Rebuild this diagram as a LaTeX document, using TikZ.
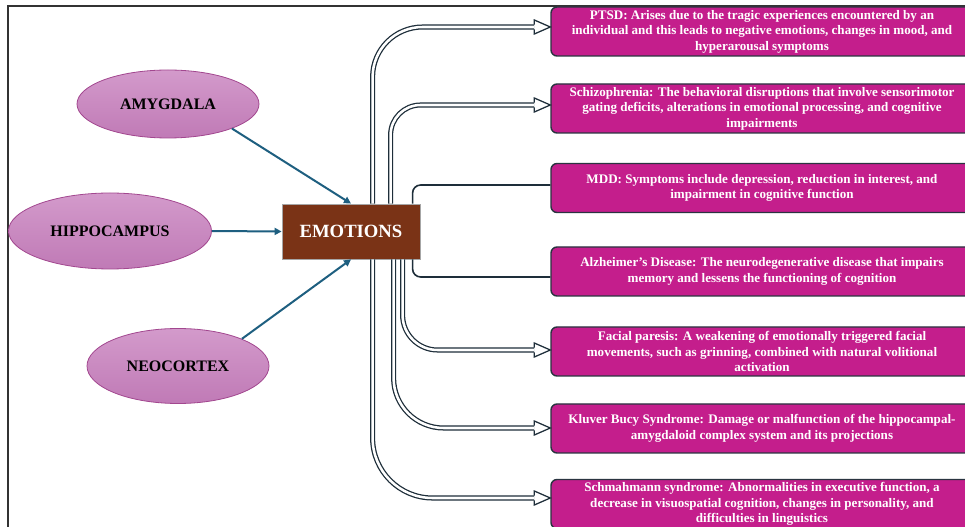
\documentclass[tikz,border=0pt]{standalone}
\usepackage{fontspec}
\setmainfont{Liberation Serif}
\usetikzlibrary{shapes.geometric,arrows.meta,calc}
\definecolor{boxfill}{HTML}{C41E8C}
\definecolor{boxline}{HTML}{2A3440}
\definecolor{emofill}{HTML}{7A3316}
\definecolor{ellTop}{HTML}{D39ACB}
\definecolor{ellBot}{HTML}{C07AB6}
\definecolor{ellLine}{HTML}{A2478F}
\definecolor{blu}{HTML}{1E5F80}
\definecolor{conn}{HTML}{1E2E3A}
\definecolor{framec}{HTML}{333333}
\newcommand\headat[1]{\draw[headst] ($(#1)+(0,-2.4)$) -- ($(#1)+(0,-7)$) -- ($(#1)+(16,0)$) -- ($(#1)+(0,7)$) -- ($(#1)+(0,2.4)$);}
\begin{document}
\begin{tikzpicture}[x=0.75pt,y=-0.75pt,
  ell/.style={ellipse, draw=ellLine, line width=0.6pt, top color=ellTop, bottom color=ellBot, inner sep=0pt, font=\fontsize{12}{14}\selectfont\bfseries, text=black},
  emo/.style={rectangle, draw=gray!70, line width=0.6pt, fill=emofill, text=white, inner sep=0pt, font=\fontsize{14}{16}\selectfont\bfseries},
  dbox/.style={rectangle, rounded corners=4.5pt, draw=boxline, line width=1.05pt, fill=boxfill, text=white, align=center, inner sep=0pt, minimum width=316.5pt, minimum height=36.75pt, font=\fontsize{9.8}{11.7}\selectfont\bfseries},
  bluarrow/.style={draw=blu, line width=1.5pt, -{Triangle[length=5.25pt,width=5.25pt]}},
  dbl/.style={draw=conn, line width=0.95pt, double=white, double distance=1.9pt},
  sgl/.style={draw=conn, line width=1.2pt},
  headst/.style={draw=conn, line width=0.95pt, fill=white, line join=miter},
  framest/.style={draw=framec, line width=1pt}
]
\useasboundingbox (0,0) rectangle (965,527);
\fill[white] (0,0) rectangle (965,527);
\draw[framest] (8,540) -- (8,6) -- (975,6);

% left ellipses
\node[ell, minimum width=136.5pt, minimum height=51pt] (amy) at (168,104) {AMYGDALA};
\node[ell, minimum width=152.25pt, minimum height=57pt] (hip) at (110,231) {HIPPOCAMPUS};
\node[ell, minimum width=136.5pt, minimum height=56.25pt] (neo) at (178,366) {NEOCORTEX};
\node[emo, minimum width=103.5pt, minimum height=41.25pt] (em) at (351,231.5) {EMOTIONS};

\draw[bluarrow] (amy.-21) -- (em.north);
\draw[bluarrow] (hip.east) -- (em.west);
\draw[bluarrow] (neo.23) -- (em.south);

% right boxes
\node[dbox] (b1) at (762,31.5) {PTSD: Arises due to the tragic experiences encountered by an\\individual and this leads to negative emotions, changes in mood, and\\hyperarousal symptoms};
\node[dbox] (b2) at (762,108.5) {Schizophrenia: The behavioral disruptions that involve sensorimotor\\gating deficits, alterations in emotional processing, and cognitive\\impairments};
\node[dbox] (b3) at (762,188) {MDD: Symptoms include depression, reduction in interest, and\\impairment in cognitive function};
\node[dbox] (b4) at (762,271.5) {Alzheimer’s Disease: The neurodegenerative disease that impairs\\memory and lessens the functioning of cognition};
\node[dbox] (b5) at (762,351.5) {Facial paresis: A weakening of emotionally triggered facial\\movements, such as grinning, combined with natural volitional\\activation};
\node[dbox] (b6) at (762,428.5) {Kluver Bucy Syndrome: Damage or malfunction of the hippocampal-\\amygdaloid complex system and its projections};
\node[dbox] (b7) at (762,504) {Schmahmann syndrome: Abnormalities in executive function, a\\decrease in visuospatial cognition, changes in personality, and\\difficulties in linguistics};

% connector start points on EMOTIONS
\coordinate (e1) at ($(em.north west)+(91,0)$);
\coordinate (e2) at ($(em.north west)+(109,0)$);
\coordinate (e3) at ($(em.north west)+(131,0)$);
\coordinate (e4) at ($(em.south west)+(131,0)$);
\coordinate (e5) at ($(em.south west)+(121,0)$);
\coordinate (e6) at ($(em.south west)+(112,0)$);
\coordinate (e7) at ($(em.south west)+(91,0)$);
% arrow bases
\coordinate (h1) at ($(b1.west)+(-16,-4.5)$);
\coordinate (h2) at ($(b2.west)+(-16,-3.5)$);
\coordinate (h3) at ($(b3.west)+(0,-3)$);
\coordinate (h4) at ($(b4.west)+(0,5.5)$);
\coordinate (h5) at ($(b5.west)+(-16,-1.5)$);
\coordinate (h6) at ($(b6.west)+(-16,-0.5)$);
\coordinate (h7) at ($(b7.west)+(-16,-6)$);

\draw[dbl, rounded corners=37.5pt] (e1) |- (h1);
\draw[dbl, rounded corners=22.5pt] (e2) |- (h2);
\draw[sgl, rounded corners=6pt] (e3) |- (h3);
\draw[sgl, rounded corners=6pt] (e4) |- (h4);
\draw[dbl, rounded corners=26.25pt] (e5) |- (h5);
\draw[dbl, rounded corners=37.5pt] (e6) |- (h6);
\draw[dbl, rounded corners=45pt] (e7) |- (h7);
\headat{h1}
\headat{h2}
\headat{h5}
\headat{h6}
\headat{h7}
\end{tikzpicture}
\end{document}
